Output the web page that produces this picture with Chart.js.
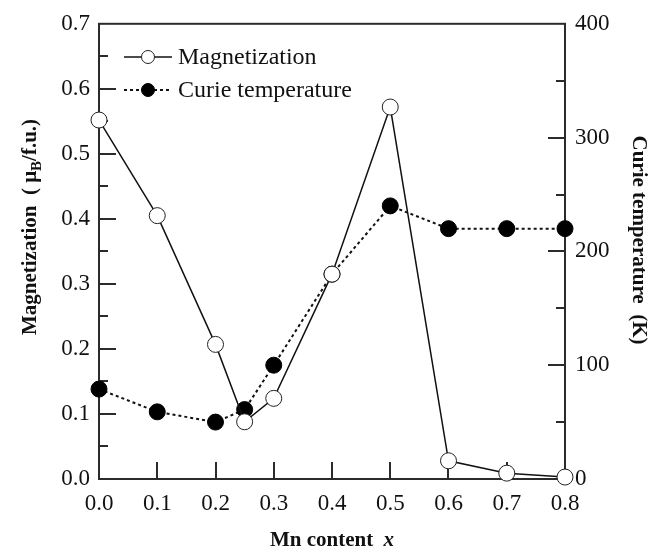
<!DOCTYPE html>
<html>
<head>
<meta charset="utf-8">
<title>Mn content vs magnetization and Curie temperature</title>
<script src="https://cdn.jsdelivr.net/npm/chart.js@4.4.0/dist/chart.umd.min.js"></script>
<style>
    html, body { margin: 0; padding: 0; background: #fff; }
    #wrap { width: 666px; height: 553px; }
</style>
</head>
<body>
<div id="wrap"><canvas id="mnChart" width="666" height="553"></canvas></div>
<script>
// Mn content x and measured values
const mnContent = [0, 0.1, 0.2, 0.25, 0.3, 0.4, 0.5, 0.6, 0.7, 0.8];
const magnetization = [0.552, 0.405, 0.207, 0.088, 0.124, 0.315, 0.572, 0.028, 0.009, 0.003];
const curieTemp = [79, 59, 50, 61, 100, 180, 240, 220, 220, 220];

// Axis ticks
const xTicks = [0, 0.1, 0.2, 0.3, 0.4, 0.5, 0.6, 0.7, 0.8];
const magTicks = [0, 0.1, 0.2, 0.3, 0.4, 0.5, 0.6, 0.7];
const tempTicks = [0, 100, 200, 300, 400];

const SERIF = '"Liberation Serif", "Times New Roman", serif';
const AXIS_COLOR = '#2b2b2b';
const TEXT_COLOR = '#111';

function toPoints(xs, ys) {
    return xs.map((x, i) => ({ x: x, y: ys[i] }));
}

// Frame and inward tick marks, drawn under the datasets
const framePlugin = {
    id: 'frame',
    beforeDatasetsDraw(chart) {
        const ctx = chart.ctx;
        const a = chart.chartArea;
        const xs = chart.scales.x, ys = chart.scales.y, ts = chart.scales.y2;
        const major = 17, minor = 9;
        ctx.save();
        ctx.strokeStyle = AXIS_COLOR;
        ctx.lineWidth = 2;
        ctx.strokeRect(a.left, a.top, a.right - a.left, a.bottom - a.top);
        ctx.beginPath();
        xTicks.forEach(v => {
            const px = Math.round(xs.getPixelForValue(v));
            ctx.moveTo(px, a.bottom);
            ctx.lineTo(px, a.bottom - major);
        });
        for (let i = 0; i < magTicks.length - 1; i++) {
            const lo = ys.getPixelForValue(magTicks[i]);
            const mid = ys.getPixelForValue((magTicks[i] + magTicks[i + 1]) / 2);
            ctx.moveTo(a.left, Math.round(lo));
            ctx.lineTo(a.left + major, Math.round(lo));
            ctx.moveTo(a.left, Math.round(mid));
            ctx.lineTo(a.left + minor, Math.round(mid));
        }
        for (let i = 0; i < tempTicks.length - 1; i++) {
            const lo = ts.getPixelForValue(tempTicks[i]);
            const mid = ts.getPixelForValue((tempTicks[i] + tempTicks[i + 1]) / 2);
            ctx.moveTo(a.right, Math.round(lo));
            ctx.lineTo(a.right - major, Math.round(lo));
            ctx.moveTo(a.right, Math.round(mid));
            ctx.lineTo(a.right - minor, Math.round(mid));
        }
        ctx.stroke();
        ctx.restore();
    }
};

// Axis titles and the line+marker legend
const labelPlugin = {
    id: 'labels',
    afterDraw(chart) {
        const ctx = chart.ctx;
        const a = chart.chartArea;
        ctx.save();
        ctx.fillStyle = TEXT_COLOR;

        // bottom title: "Mn content x"
        ctx.textBaseline = 'alphabetic';
        const part1 = 'Mn content  ';
        ctx.font = 'bold 21px ' + SERIF;
        const w1 = ctx.measureText(part1).width;
        ctx.font = 'bold italic 21px ' + SERIF;
        const w2 = ctx.measureText('x').width;
        let sx = (a.left + a.right) / 2 - (w1 + w2) / 2;
        ctx.font = 'bold 21px ' + SERIF;
        ctx.textAlign = 'left';
        ctx.fillText(part1, sx, 546);
        ctx.font = 'bold italic 21px ' + SERIF;
        ctx.fillText('x', sx + w1, 546);

        // left title with subscript B
        const mainFont = 'bold 21px ' + SERIF;
        const subFont = 'bold 15px ' + SERIF;
        const pieces = [
            { t: 'Magnetization  ( \u03bc', f: mainFont, dy: 0 },
            { t: 'B', f: subFont, dy: 5 },
            { t: '/f.u.)', f: mainFont, dy: 0 }
        ];
        let total = 0;
        pieces.forEach(p => { ctx.font = p.f; p.w = ctx.measureText(p.t).width; total += p.w; });
        ctx.save();
        ctx.translate(36, 227);
        ctx.rotate(-Math.PI / 2);
        let cx = -total / 2;
        pieces.forEach(p => {
            ctx.font = p.f;
            ctx.fillText(p.t, cx, p.dy);
            cx += p.w;
        });
        ctx.restore();

        // right title
        ctx.save();
        ctx.translate(633, 240);
        ctx.rotate(Math.PI / 2);
        ctx.font = 'bold 21px ' + SERIF;
        ctx.textAlign = 'center';
        ctx.fillText('Curie temperature  (K)', 0, 0);
        ctx.restore();

        // legend
        const rows = [
            { ds: chart.data.datasets[0], y: 57 },
            { ds: chart.data.datasets[1], y: 90 }
        ];
        rows.forEach(r => {
            ctx.save();
            ctx.strokeStyle = r.ds.borderColor;
            ctx.lineWidth = r.ds.borderWidth;
            ctx.setLineDash(r.ds.borderDash || []);
            ctx.beginPath();
            ctx.moveTo(124, r.y);
            ctx.lineTo(172, r.y);
            ctx.stroke();
            ctx.setLineDash([]);
            ctx.beginPath();
            ctx.arc(148, r.y, 6.5, 0, Math.PI * 2);
            ctx.fillStyle = r.ds.pointBackgroundColor;
            ctx.fill();
            ctx.lineWidth = 1;
            ctx.strokeStyle = r.ds.pointBorderColor;
            ctx.stroke();
            ctx.restore();
            ctx.font = '24px ' + SERIF;
            ctx.textAlign = 'left';
            ctx.textBaseline = 'middle';
            ctx.fillStyle = TEXT_COLOR;
            ctx.fillText(r.ds.label, 178, r.y + 1);
        });
        ctx.restore();
    }
};

const tickFont = { family: SERIF, size: 23 };

new Chart(document.getElementById('mnChart').getContext('2d'), {
    type: 'line',
    data: {
        datasets: [{
            label: 'Magnetization',
            data: toPoints(mnContent, magnetization),
            yAxisID: 'y',
            borderColor: '#111',
            borderWidth: 1.5,
            pointRadius: 8,
            pointBackgroundColor: '#fff',
            pointBorderColor: '#222',
            pointBorderWidth: 1,
            tension: 0,
            clip: false
        }, {
            label: 'Curie temperature',
            data: toPoints(mnContent, curieTemp),
            yAxisID: 'y2',
            borderColor: '#111',
            borderWidth: 2,
            borderDash: [3, 3],
            pointRadius: 8,
            pointBackgroundColor: '#000',
            pointBorderColor: '#000',
            pointBorderWidth: 1,
            tension: 0,
            clip: false
        }]
    },
    options: {
        responsive: false,
        animation: false,
        layout: { padding: { top: 14, left: 0, right: 0, bottom: 0 } },
        plugins: {
            legend: { display: false },
            tooltip: { enabled: false }
        },
        scales: {
            x: {
                type: 'linear',
                min: 0,
                max: 0.8,
                afterBuildTicks: s => { s.ticks = xTicks.map(v => ({ value: v })); },
                afterFit: s => { s.height = 74; },
                grid: { display: false, drawTicks: false },
                border: { display: false },
                ticks: {
                    padding: 11,
                    color: TEXT_COLOR,
                    font: tickFont,
                    maxRotation: 0,
                    callback: v => v.toFixed(1)
                }
            },
            y: {
                type: 'linear',
                position: 'left',
                min: 0,
                max: 0.7,
                afterBuildTicks: s => { s.ticks = magTicks.map(v => ({ value: v })); },
                afterFit: s => { s.width = 99; },
                grid: { display: false, drawTicks: false },
                border: { display: false },
                ticks: {
                    padding: 9,
                    color: TEXT_COLOR,
                    font: tickFont,
                    callback: v => v.toFixed(1)
                }
            },
            y2: {
                type: 'linear',
                position: 'right',
                min: 0,
                max: 400,
                afterBuildTicks: s => { s.ticks = tempTicks.map(v => ({ value: v })); },
                afterFit: s => { s.width = 101; },
                grid: { display: false, drawTicks: false },
                border: { display: false },
                ticks: {
                    padding: 10,
                    color: TEXT_COLOR,
                    font: tickFont,
                    callback: v => String(v)
                }
            }
        }
    },
    plugins: [framePlugin, labelPlugin]
});
</script>
</body>
</html>
